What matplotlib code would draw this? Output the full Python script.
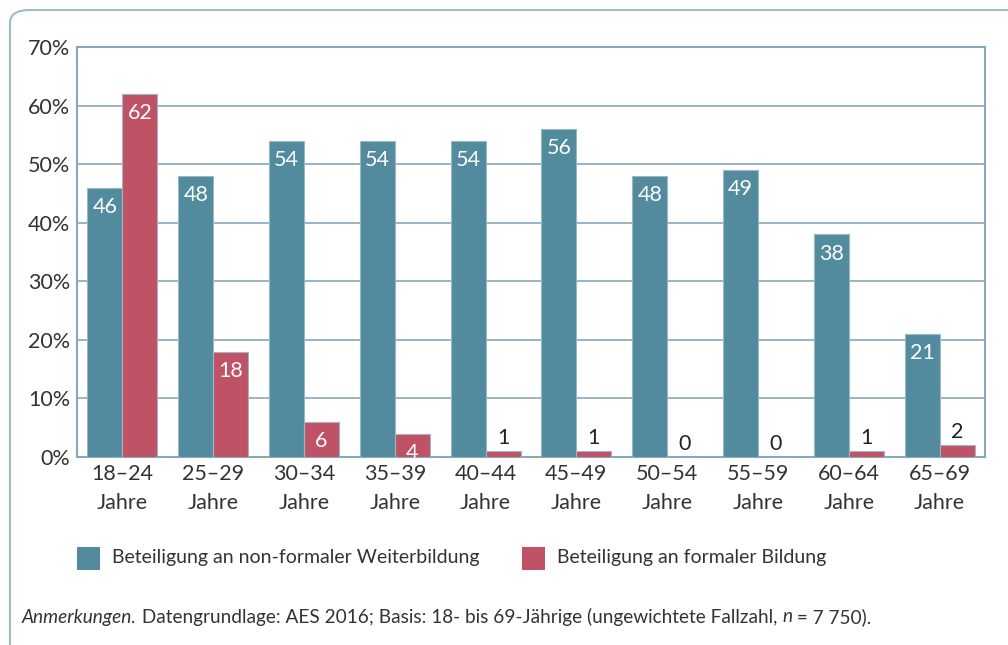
import matplotlib.pyplot as plt
from matplotlib.patches import FancyBboxPatch, Rectangle
import numpy as np

plt.rcParams['font.family'] = ['Lato', 'DejaVu Sans']

# Daten
altersgruppen = ['18–24\nJahre', '25–29\nJahre', '30–34\nJahre', '35–39\nJahre', '40–44\nJahre',
                 '45–49\nJahre', '50–54\nJahre', '55–59\nJahre', '60–64\nJahre', '65–69\nJahre']
non_formal = [46, 48, 54, 54, 54, 56, 48, 49, 38, 21]
formal = [62, 18, 6, 4, 1, 1, 0, 0, 1, 2]
y_ticks = [0, 10, 20, 30, 40, 50, 60, 70]

c_teal = '#538b9e'
c_red = '#bf5264'
c_line = '#86a8bb'
c_text = '#333333'

fig = plt.figure(figsize=(10.08, 6.45), dpi=100)

# Rahmen (oben/links, abgerundet)
frame = FancyBboxPatch((10 / 1008, -0.2), 1.2, 1.2 - 10 / 645,
                       boxstyle='round,pad=0,rounding_size=0.02',
                       transform=fig.transFigure, facecolor='none',
                       edgecolor='#9dbccc', linewidth=1.5)
fig.patches.append(frame)

ax = fig.add_axes([77 / 1008, 1 - 457 / 645, (985 - 77) / 1008, (457 - 47) / 645])
x = np.arange(len(altersgruppen))
w = 0.385
b1 = ax.bar(x - w / 2, non_formal, w, color=c_teal, edgecolor='#9bb7c6', linewidth=0.8, zorder=3)
b2 = ax.bar(x + w / 2, formal, w, color=c_red, edgecolor='#9bb7c6', linewidth=0.8, zorder=3)

for bars, vals in [(b1, non_formal), (b2, formal)]:
    for r, v in zip(bars, vals):
        cx = r.get_x() + r.get_width() / 2
        if v >= 4:
            ax.text(cx, v - 1.6, str(v), ha='center', va='top', color='white', fontsize=15.5, zorder=4)
        else:
            ax.text(cx, v + 0.5, str(v), ha='center', va='bottom', color='#222222', fontsize=15.5, zorder=4)

ax.set_xlim(-0.5, len(altersgruppen) - 0.5)
ax.set_ylim(0, 70)
ax.set_yticks(y_ticks)
ax.set_yticklabels([f'{t}%' for t in y_ticks])
ax.set_xticks(x)
ax.set_xticklabels(altersgruppen, linespacing=1.55)
ax.tick_params(length=0, labelsize=15.5, colors=c_text, pad=5)
ax.yaxis.grid(True, color=c_line, linewidth=1.2, zorder=0)
ax.set_axisbelow(True)
for s in ax.spines.values():
    s.set_color(c_line)
    s.set_linewidth(1.5)

# Legende
fig.patches.append(Rectangle((77 / 1008, 1 - 570 / 645), 23 / 1008, 23 / 645,
                             transform=fig.transFigure, facecolor=c_teal, edgecolor='none'))
fig.text(112 / 1008, 1 - 558 / 645, 'Beteiligung an non-formaler Weiterbildung',
         va='center', fontsize=14, color=c_text)
fig.patches.append(Rectangle((522 / 1008, 1 - 570 / 645), 23 / 1008, 23 / 645,
                             transform=fig.transFigure, facecolor=c_red, edgecolor='none'))
fig.text(557 / 1008, 1 - 558 / 645, 'Beteiligung an formaler Bildung',
         va='center', fontsize=14, color=c_text)

# Anmerkungen
renderer = fig.canvas.get_renderer()
parts = [('Anmerkungen.', 'italic'), (' Datengrundlage: AES 2016; Basis: 18- bis 69-Jährige (ungewichtete Fallzahl, ', 'normal'),
         ('n', 'italic'), (' = 7 750).', 'normal')]
xpos = 22 / 1008
for txt, st in parts:
    t = fig.text(xpos, 1 - 617 / 645, txt, va='center', fontsize=13.7, style=st, color=c_text)
    bb = t.get_window_extent(renderer=renderer)
    xpos += bb.width / fig.bbox.width

fig.savefig('out.png', dpi=100)
